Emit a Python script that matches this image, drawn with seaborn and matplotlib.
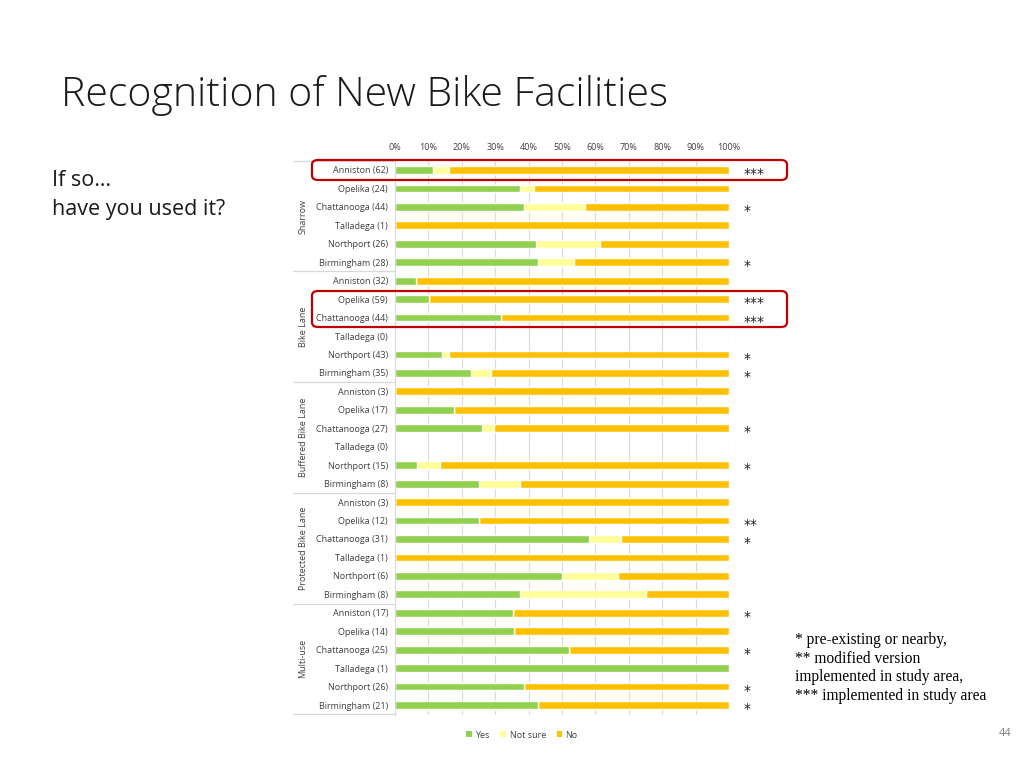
import matplotlib
matplotlib.use("Agg")
import matplotlib.pyplot as plt
import seaborn as sns
import pandas as pd
import numpy as np
from matplotlib.patches import FancyBboxPatch, Patch

sns.set_theme(style="white")
plt.rcParams['font.family'] = ['Open Sans', 'DejaVu Sans']

groups = ["Sharrow", "Bike Lane", "Buffered Bike Lane", "Protected Bike Lane", "Multi-use"]
cities = ["Anniston", "Opelika", "Chattanooga", "Talladega", "Northport", "Birmingham"]
counts = [
    [62, 24, 44, 1, 26, 28],
    [32, 59, 44, 0, 43, 35],
    [3, 17, 27, 0, 15, 8],
    [3, 12, 31, 1, 6, 8],
    [17, 14, 25, 1, 26, 21],
]
yes_pct = [
    [11.3, 37.5, 38.6, 0, 42.3, 42.9],
    [6.3, 10.2, 31.8, 0, 14.0, 22.9],
    [0, 17.6, 25.9, 0, 6.7, 25.0],
    [0, 25.0, 58.1, 0, 50.0, 37.5],
    [35.3, 35.7, 52.0, 100, 38.5, 42.9],
]
notsure_pct = [
    [4.8, 4.2, 18.2, 0, 19.2, 10.7],
    [0, 0, 0, 0, 2.3, 5.7],
    [0, 0, 3.7, 0, 6.7, 12.5],
    [0, 0, 9.7, 0, 16.7, 37.5],
    [0, 0, 0, 0, 0, 0],
]
no_pct = [
    [83.9, 58.3, 43.2, 100, 38.5, 46.4],
    [93.7, 89.8, 68.2, 0, 83.7, 71.4],
    [100, 82.4, 70.4, 0, 86.6, 62.5],
    [100, 75.0, 32.2, 100, 33.3, 25.0],
    [64.7, 64.3, 48.0, 0, 61.5, 57.1],
]
marks = [
    ["***", "", "*", "", "", "*"],
    ["", "***", "***", "", "*", "*"],
    ["", "", "*", "", "*", ""],
    ["", "**", "*", "", "", ""],
    ["*", "", "*", "", "*", "*"],
]
xtick_labels = ["0%", "10%", "20%", "30%", "40%", "50%", "60%", "70%", "80%", "90%", "100%"]
legend_labels = ["Yes", "Not sure", "No"]
colors = {"Yes": "#92D050", "Not sure": "#FFFF99", "No": "#FFC000"}

rows = []
for gi, g in enumerate(groups):
    for ci, c in enumerate(cities):
        y, n, o = yes_pct[gi][ci], notsure_pct[gi][ci], no_pct[gi][ci]
        rows.append({"key": f"{g}|{c}", "label": f"{c} ({counts[gi][ci]})",
                     "yes": y, "ys": y + n, "total": y + n + o,
                     "mark": marks[gi][ci], "group": g})
df = pd.DataFrame(rows)
order = list(df["key"])

fig = plt.figure(figsize=(10.24, 7.68), dpi=100)
W, H = 1024, 768
ax_left, ax_right, ax_top, ax_bot = 395, 729, 160, 715
ax = fig.add_axes([ax_left / W, 1 - ax_bot / H, (ax_right - ax_left) / W, (ax_bot - ax_top) / H])

bh = 0.42
sns.barplot(data=df, x="total", y="key", order=order, color=colors["No"], width=bh,
            orient="h", ax=ax, saturation=1)
sns.barplot(data=df, x="ys", y="key", order=order, color=colors["Not sure"], width=bh,
            orient="h", ax=ax, saturation=1)
sns.barplot(data=df, x="yes", y="key", order=order, color=colors["Yes"], width=bh,
            orient="h", ax=ax, saturation=1)

ax.set_xlim(0, 100)
ax.set_ylim(len(order) - 0.46, -0.54)
ax.set_xticks(np.arange(0, 101, 10))
ax.set_xticklabels(xtick_labels)
ax.xaxis.tick_top()
ax.tick_params(axis="x", length=0, labelsize=6.5, colors="#404040", pad=6)
ax.set_yticks(range(len(order)))
ax.set_yticklabels(df["label"])
ax.tick_params(axis="y", length=0, labelsize=6.5, colors="#404040", pad=5)
ax.set_xlabel("")
ax.set_ylabel("")
ax.grid(axis="x", color="#D9D9D9", lw=0.8)
ax.set_axisbelow(True)
for s in ["top", "right", "bottom"]:
    ax.spines[s].set_visible(False)
ax.spines["left"].set_color("#D9D9D9")
ax.spines["left"].set_linewidth(0.8)

# asterisks
for i, m in enumerate(df["mark"]):
    if m:
        ax.text(104.3, i + 0.22, m, ha="left", va="center", fontsize=10, color="#202020",
                family="DejaVu Sans", clip_on=False)

# group labels and separators
trans = ax.get_yaxis_transform()
xl = (293 - ax_left) / (ax_right - ax_left)
for gi, g in enumerate(groups):
    top = gi * 6 - 0.5
    mid = gi * 6 + 2.5
    ax.plot([xl, 0], [top, top], transform=trans, color="#D9D9D9", lw=0.9, clip_on=False)
    ax.text((303 - ax_left) / (ax_right - ax_left), mid, g, rotation=90, ha="center", va="center",
            fontsize=6.5, color="#404040", transform=trans)
ax.plot([xl, 0], [29.5, 29.5], transform=trans, color="#D9D9D9", lw=0.9, clip_on=False)

# red highlight boxes
for (x0, y0, x1, y1) in [(312, 160, 787, 180), (312, 291, 787, 327)]:
    box = FancyBboxPatch((x0 / W, 1 - y1 / H), (x1 - x0) / W, (y1 - y0) / H,
                         boxstyle="round,pad=0,rounding_size=0.006", transform=fig.transFigure,
                         fill=False, edgecolor="#C00000", lw=1.6)
    fig.patches.append(box)

# legend
handles = [Patch(facecolor=colors[k], edgecolor="none") for k in legend_labels]
fig.legend(handles, legend_labels, loc="center", bbox_to_anchor=(522 / W, 1 - 735 / H), ncol=3,
           frameon=False, fontsize=6.5, handlelength=0.6, handleheight=0.6, handletextpad=0.4,
           columnspacing=1.2, labelcolor="#404040")

# title and side texts
fig.text(61 / W, 1 - 95 / H, "Recognition of New Bike Facilities", fontsize=29.5, color="#1a1a1a",
         ha="left", va="center", family=["Open Sans", "DejaVu Sans"], fontweight="light")
fig.text(52 / W, 1 - 181 / H, "If so…", fontsize=15.5, color="#1a1a1a", ha="left", va="center")
fig.text(52 / W, 1 - 210 / H, "have you used it?", fontsize=15.5, color="#1a1a1a", ha="left", va="center")
fig.text(795 / W, 1 - 668 / H,
         "* pre-existing or nearby,\n** modified version\nimplemented in study area,\n*** implemented in study area",
         fontsize=11.2, family="Liberation Serif", color="black", ha="left", va="center", linespacing=1.22)
fig.text(1005 / W, 1 - 733 / H, "44", fontsize=8, color="#808080", ha="center", va="center")

fig.savefig("out.png", dpi=100)
